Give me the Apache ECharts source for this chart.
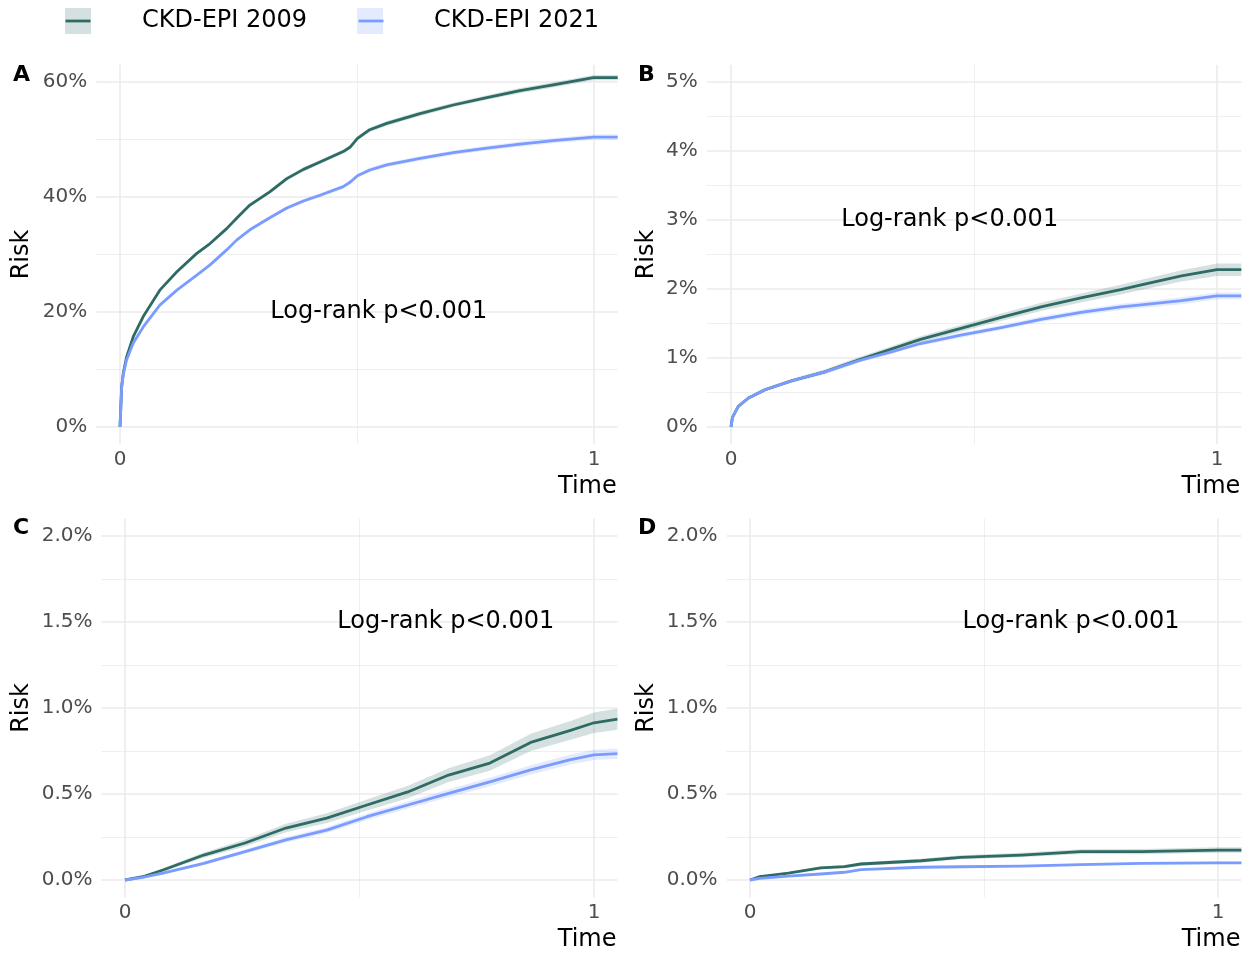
<!DOCTYPE html>
<html>
<head>
<meta charset="utf-8">
<script src="https://cdn.jsdelivr.net/npm/echarts@6/dist/echarts.min.js"></script>
<style>
html,body{margin:0;padding:0;background:#ffffff;}
#chart{width:1249px;height:953px;}
</style>
</head>
<body>
<div id="chart"></div>
<script>
// ---------- text ----------
const seriesNames = ['CKD-EPI 2009', 'CKD-EPI 2021'];
const panelLetters = ['A', 'B', 'C', 'D'];
const annotationText = 'Log-rank p<0.001';
const xAxisTitle = 'Time';
const yAxisTitle = 'Risk';

// ---------- tick values ----------
const xTicks = [0, 1];
const xMinorTicks = [0.5];
const yTicksA = [0, 20, 40, 60];
const yMinorA = [10, 30, 50];
const yTicksB = [0, 1, 2, 3, 4, 5];
const yMinorB = [0.5, 1.5, 2.5, 3.5, 4.5];
const yTicksCD = [0, 0.5, 1.0, 1.5, 2.0];
const yMinorCD = [0.25, 0.75, 1.25, 1.75];

// ---------- panel A (risk in %) ----------
const timeA = [0, 0.0035, 0.007, 0.014, 0.028, 0.049, 0.084, 0.12, 0.162, 0.19, 0.225, 0.246, 0.274, 0.316, 0.352, 0.387, 0.422, 0.471, 0.486, 0.501, 0.527, 0.563, 0.633, 0.703, 0.774, 0.844, 0.914, 0.9986, 1.05];
const riskA2009 = [0, 7.0, 9.4, 12.2, 15.7, 19.2, 23.8, 27.0, 30.2, 31.9, 34.5, 36.3, 38.6, 40.9, 43.2, 44.8, 46.1, 47.9, 48.7, 50.2, 51.7, 52.8, 54.5, 56.0, 57.3, 58.5, 59.5, 60.75, 60.75];
const riskA2021 = [0, 7.0, 9.2, 11.7, 14.6, 17.4, 21.2, 23.8, 26.4, 28.2, 30.8, 32.5, 34.3, 36.4, 38.1, 39.3, 40.3, 41.8, 42.6, 43.7, 44.7, 45.6, 46.7, 47.7, 48.5, 49.2, 49.8, 50.4, 50.4];
const ciA2009 = [0, 0.1, 0.1, 0.15, 0.15, 0.2, 0.2, 0.25, 0.25, 0.25, 0.3, 0.3, 0.3, 0.3, 0.35, 0.35, 0.35, 0.35, 0.35, 0.35, 0.4, 0.4, 0.4, 0.4, 0.4, 0.45, 0.45, 0.45, 0.45];
const ciA2021 = [0, 0.1, 0.1, 0.15, 0.15, 0.2, 0.2, 0.25, 0.25, 0.25, 0.3, 0.3, 0.3, 0.3, 0.35, 0.35, 0.35, 0.35, 0.35, 0.35, 0.4, 0.4, 0.4, 0.4, 0.4, 0.45, 0.45, 0.45, 0.45];

// ---------- panel B ----------
const timeB = [0, 0.003, 0.015, 0.036, 0.07, 0.125, 0.193, 0.262, 0.33, 0.39, 0.473, 0.556, 0.638, 0.72, 0.802, 0.844, 0.927, 1.0, 1.05];
const riskB2009 = [0, 0.14, 0.30, 0.42, 0.54, 0.67, 0.80, 0.97, 1.13, 1.27, 1.43, 1.59, 1.74, 1.87, 1.99, 2.06, 2.19, 2.28, 2.28];
const riskB2021 = [0, 0.14, 0.30, 0.42, 0.54, 0.67, 0.80, 0.96, 1.09, 1.21, 1.33, 1.44, 1.56, 1.66, 1.74, 1.77, 1.83, 1.90, 1.90];
const ciB2009 = [0, 0.01, 0.015, 0.02, 0.025, 0.03, 0.035, 0.04, 0.04, 0.045, 0.05, 0.055, 0.06, 0.065, 0.07, 0.075, 0.08, 0.09, 0.09];
const ciB2021 = [0, 0.01, 0.012, 0.015, 0.02, 0.02, 0.025, 0.03, 0.03, 0.03, 0.035, 0.035, 0.04, 0.04, 0.045, 0.045, 0.05, 0.05, 0.05];

// ---------- panel C ----------
const timeC = [0, 0.038, 0.081, 0.168, 0.256, 0.343, 0.43, 0.516, 0.603, 0.69, 0.778, 0.865, 0.95, 1.0, 1.05];
const riskC2009 = [0, 0.019, 0.058, 0.145, 0.215, 0.302, 0.36, 0.436, 0.512, 0.61, 0.68, 0.80, 0.87, 0.914, 0.935];
const riskC2021 = [0, 0.015, 0.04, 0.097, 0.165, 0.233, 0.29, 0.368, 0.436, 0.504, 0.57, 0.64, 0.70, 0.727, 0.735];
const ciC2009 = [0, 0.005, 0.01, 0.015, 0.02, 0.025, 0.028, 0.032, 0.036, 0.04, 0.045, 0.05, 0.055, 0.06, 0.062];
const ciC2021 = [0, 0.004, 0.006, 0.01, 0.012, 0.015, 0.017, 0.019, 0.021, 0.023, 0.025, 0.027, 0.029, 0.03, 0.03];

// ---------- panel D ----------
const timeD = [0, 0.021, 0.082, 0.151, 0.202, 0.237, 0.365, 0.45, 0.58, 0.707, 0.836, 1.0, 1.05];
const riskD2009 = [0, 0.02, 0.04, 0.07, 0.078, 0.093, 0.112, 0.132, 0.145, 0.165, 0.165, 0.174, 0.174];
const riskD2021 = [0, 0.01, 0.023, 0.035, 0.045, 0.06, 0.074, 0.077, 0.081, 0.089, 0.097, 0.10, 0.10];
const ciD2009 = [0, 0.004, 0.006, 0.008, 0.009, 0.01, 0.011, 0.012, 0.013, 0.014, 0.015, 0.016, 0.016];
const ciD2021 = [0, 0.002, 0.003, 0.004, 0.004, 0.005, 0.005, 0.006, 0.006, 0.006, 0.007, 0.007, 0.007];

// ---------- annotation positions (data coords) ----------
const annA = [0.546, 20.0];
const annB = [0.45, 3.0];
const annC = [0.684, 1.5];
const annD = [0.686, 1.5];

// ---------- styles ----------
const FONT = 'DejaVu Sans';
const LINE09 = '#2E6B64';
const LINE21 = '#7B9CFF';
const BAND09 = 'rgba(46,107,100,0.2)';
const BAND21 = 'rgba(123,156,255,0.2)';
const GRID = '#EBEBEB';

const panels = [
  {t: timeA, r9: riskA2009, r1: riskA2021, c9: ciA2009, c1: ciA2021, ann: annA, ymin: -3, ymax: 63, yt: yTicksA, ym: yMinorA, fmt: v => v + '%',
   grid: {left: 96.3, top: 64.75, width: 521.4, height: 379.5}},
  {t: timeB, r9: riskB2009, r1: riskB2021, c9: ciB2009, c1: ciB2021, ann: annB, ymin: -0.25, ymax: 5.25, yt: yTicksB, ym: yMinorB, fmt: v => v + '%',
   grid: {left: 706.7, top: 64.75, width: 534.6, height: 379.5}},
  {t: timeC, r9: riskC2009, r1: riskC2021, c9: ciC2009, c1: ciC2021, ann: annC, ymin: -0.1, ymax: 2.1, yt: yTicksCD, ym: yMinorCD, fmt: v => v.toFixed(1) + '%',
   grid: {left: 101.55, top: 518.8, width: 515.9, height: 378.4}},
  {t: timeD, r9: riskD2009, r1: riskD2021, c9: ciD2009, c1: ciD2021, ann: annD, ymin: -0.1, ymax: 2.1, yt: yTicksCD, ym: yMinorCD, fmt: v => v.toFixed(1) + '%',
   grid: {left: 726.6, top: 518.8, width: 514.8, height: 378.4}}
];

const grids = [], xAxes = [], yAxes = [], series = [], graphics = [];

panels.forEach((p, i) => {
  grids.push(Object.assign({outerBoundsMode: 'none', containLabel: false}, p.grid));
  xAxes.push({
    gridIndex: i, type: 'value', min: -0.05, max: 1.05,
    axisLine: {show: false}, axisTick: {show: false}, splitLine: {show: false},
    axisLabel: {customValues: xTicks, margin: 6, fontSize: 20, color: '#4D4D4D', fontFamily: FONT}
  });
  yAxes.push({
    gridIndex: i, type: 'value', min: p.ymin, max: p.ymax,
    axisLine: {show: false}, axisTick: {show: false}, splitLine: {show: false},
    axisLabel: {customValues: p.yt, margin: 9, fontSize: 20, color: '#4D4D4D', fontFamily: FONT, formatter: p.fmt, padding: [4, 0, 0, 0]}
  });

  // grid lines via markLine (placed through the axis scales)
  const mlData = [];
  p.yt.forEach(v => mlData.push({yAxis: v, lineStyle: {width: 1.6, color: GRID, type: 'solid'}}));
  p.ym.forEach(v => mlData.push({yAxis: v, lineStyle: {width: 0.8, color: GRID, type: 'solid'}}));
  xTicks.forEach(v => mlData.push({xAxis: v, lineStyle: {width: 1.6, color: GRID, type: 'solid'}}));
  xMinorTicks.forEach(v => mlData.push({xAxis: v, lineStyle: {width: 0.8, color: GRID, type: 'solid'}}));
  series.push({
    type: 'line', xAxisIndex: i, yAxisIndex: i, data: [[0, 0]], symbol: 'none', silent: true,
    lineStyle: {opacity: 0}, z: 1, animation: false,
    markLine: {silent: true, symbol: ['none', 'none'], label: {show: false}, z: 1, animation: false, data: mlData}
  });

  // confidence bands (custom polygon through api.coord)
  [[p.r9, p.c9, BAND09], [p.r1, p.c1, BAND21]].forEach(([r, c, col]) => {
    const t = p.t;
    series.push({
      type: 'custom', xAxisIndex: i, yAxisIndex: i, data: [[0, 0]], silent: true, z: 2, animation: false,
      renderItem: (params, api) => {
        const upper = t.map((x, k) => api.coord([x, r[k] + c[k]]));
        const lower = t.map((x, k) => api.coord([x, r[k] - c[k]])).reverse();
        return {type: 'polygon', shape: {points: upper.concat(lower)}, style: {fill: col}};
      }
    });
  });

  // estimate lines
  series.push({
    name: seriesNames[0], type: 'line', xAxisIndex: i, yAxisIndex: i,
    data: p.t.map((x, k) => [x, p.r9[k]]), symbol: 'none', silent: true,
    lineStyle: {color: LINE09, width: 2.8, join: 'round'}, itemStyle: {color: LINE09}, z: 3, animation: false
  });
  series.push({
    name: seriesNames[1], type: 'line', xAxisIndex: i, yAxisIndex: i,
    data: p.t.map((x, k) => [x, p.r1[k]]), symbol: 'none', silent: true,
    lineStyle: {color: LINE21, width: 2.8, join: 'round'}, itemStyle: {color: LINE21}, z: 3, animation: false
  });

  // annotation
  series.push({
    type: 'scatter', xAxisIndex: i, yAxisIndex: i, data: [p.ann], symbolSize: 0, silent: true,
    itemStyle: {color: 'rgba(0,0,0,0)'}, z: 4, animation: false,
    label: {show: true, position: 'inside', formatter: annotationText, color: '#000000', opacity: 1,
            textBorderWidth: 0, fontSize: 24, fontFamily: FONT}
  });

  const g = p.grid;
  const isLeft = (i % 2 === 0);
  graphics.push({
    type: 'text', x: isLeft ? 22 : 647, y: g.top + g.height / 2, rotation: Math.PI / 2, z: 100,
    style: {text: yAxisTitle, fontSize: 24, fontFamily: FONT, fill: '#000', align: 'center', verticalAlign: 'middle'}
  });
  graphics.push({
    type: 'text', x: g.left + g.width - 1, y: (i < 2 ? 487 : 940), z: 100,
    style: {text: xAxisTitle, fontSize: 24, fontFamily: FONT, fill: '#000', align: 'right', verticalAlign: 'middle'}
  });
  graphics.push({
    type: 'text', x: isLeft ? 13 : 638, y: (i < 2 ? 75 : 528.5), z: 100,
    style: {text: panelLetters[i], fontSize: 22, fontWeight: 'bold', fontFamily: FONT, fill: '#000', align: 'left', verticalAlign: 'middle'}
  });
});

// legend key lines
graphics.push({type: 'line', z: 100, shape: {x1: 65.5, y1: 21, x2: 90.5, y2: 21}, style: {stroke: LINE09, lineWidth: 2.8}});
graphics.push({type: 'line', z: 100, shape: {x1: 358.5, y1: 21, x2: 383.5, y2: 21}, style: {stroke: LINE21, lineWidth: 2.8}});

const chart = echarts.init(document.getElementById('chart'), null, {renderer: 'canvas'});
chart.setOption({
  backgroundColor: '#ffffff',
  animation: false,
  legend: {
    data: [
      {name: seriesNames[0], itemStyle: {color: BAND09}},
      {name: seriesNames[1], itemStyle: {color: BAND21}}
    ],
    left: 65, top: 8, padding: 0, icon: 'rect', itemWidth: 26, itemHeight: 26, itemGap: 50,
    selectedMode: false,
    textStyle: {fontSize: 24, color: '#000', fontFamily: FONT, padding: [4, 0, 0, 46]}
  },
  grid: grids,
  xAxis: xAxes,
  yAxis: yAxes,
  series: series,
  graphic: graphics
});
</script>
</body>
</html>
